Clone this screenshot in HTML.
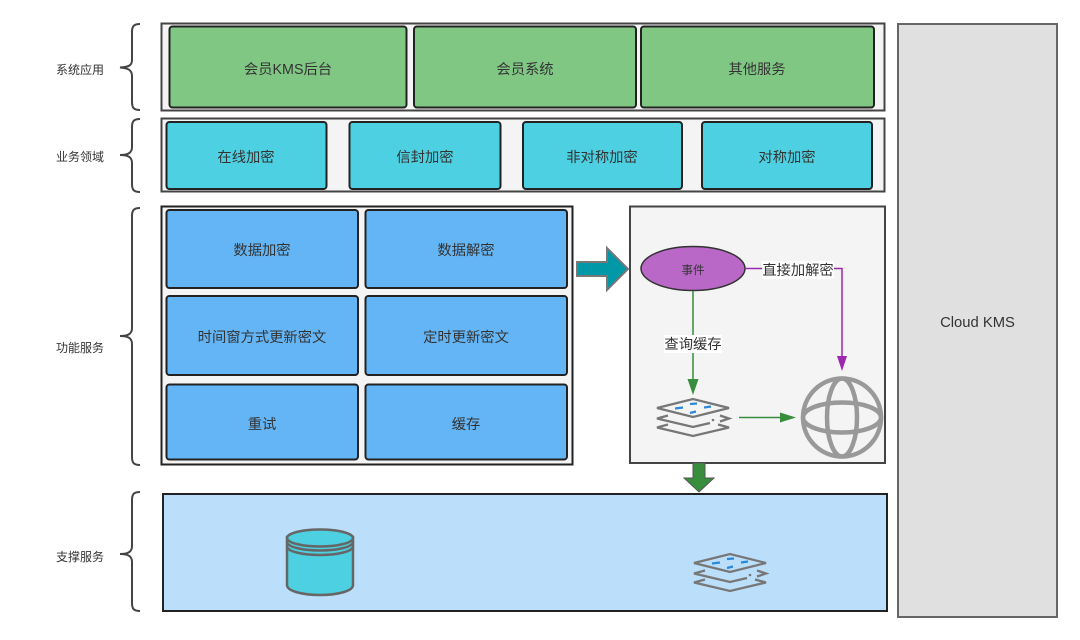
<!DOCTYPE html>
<html><head><meta charset="utf-8"><style>
html,body{margin:0;padding:0;background:#fff;width:1080px;height:640px;overflow:hidden}
svg{display:block;filter:blur(.35px)}
text{font-family:"Liberation Sans","Noto Sans CJK SC",sans-serif;fill:#333;text-anchor:middle;dominant-baseline:central}
.l{font-size:12px}.t{font-size:14.3px}
.f{fill:#f4f4f4;stroke:#444;stroke-width:2}
.g{fill:#81c784;stroke:#222;stroke-width:2}
.c{fill:#4dd0e1;stroke:#222;stroke-width:2}
.b{fill:#64b5f6;stroke:#222;stroke-width:2}
.br{fill:none;stroke:#444;stroke-width:2}
</style></head><body>
<svg width="1080" height="640" viewBox="0 0 1080 640" xmlns="http://www.w3.org/2000/svg">
<defs>
<g id="st">
<path d="M-36 0L0 -9L36 0L0 9Z M-25 7.500L-36 10.500L0 19L17 15 M27 7.500L36 10.500L27 13.500 M-25 16.500L-36 19.500L0 28L36 19.500L25 16.500" fill="none" stroke="#777" stroke-width="2.300"/>
<circle cx="20" cy="12" r="1.300" fill="#777"/>
<path d="M-18 0.500L-10 -0.500 M-3 -4L4 -4.500 M11 -0.500L18 -1.500 M-3 5L3 3.500" stroke="#2b88d8" stroke-width="2.200" fill="none"/>
</g>
</defs>
<path class="br" d="M140 24C134 24 132 26 132 32V60C132 66 128 67 120 67.500C128 68 132 70 132 76V102C132 108 134 110 140 110"/>
<path class="br" d="M140 119C134 119 132 121 132 127V147C132 153 128 155 120 155C128 155 132 157 132 163V184C132 190 134 192 140 192"/>
<path class="br" d="M140 208C134 208 132 210 132 216V328C132 334 128 336 120 336C128 336 132 338 132 344V457C132 463 134 465 140 465"/>
<path class="br" d="M140 492C134 492 132 494 132 500V546C132 552 128 554 120 554C128 554 132 556 132 562V603C132 609 134 611 140 611"/>
<text class="l" x="80" y="70">系统应用</text>
<text class="l" x="80" y="157">业务领域</text>
<text class="l" x="80" y="348">功能服务</text>
<text class="l" x="80" y="557">支撑服务</text>

<rect class="f" x="161.500" y="23.500" width="723" height="87"/>
<rect class="g" x="169.500" y="26.500" width="237" height="81" rx="3"/>
<rect class="g" x="414" y="26.500" width="222" height="81" rx="3"/>
<rect class="g" x="641" y="26.500" width="233" height="81" rx="3"/>
<text class="t" x="288" y="70">会员KMS后台</text>
<text class="t" x="525" y="70">会员系统</text>
<text class="t" x="757" y="70">其他服务</text>

<rect class="f" x="161.500" y="118.500" width="723" height="73"/>
<rect class="c" x="166.500" y="122" width="160" height="67" rx="3"/>
<rect class="c" x="349.500" y="122" width="151" height="67" rx="3"/>
<rect class="c" x="523" y="122" width="159" height="67" rx="3"/>
<rect class="c" x="702" y="122" width="170" height="67" rx="3"/>
<text class="t" x="246" y="158">在线加密</text>
<text class="t" x="425" y="158">信封加密</text>
<text class="t" x="602" y="158">非对称加密</text>
<text class="t" x="787" y="158">对称加密</text>

<rect x="161.500" y="206.500" width="411" height="258" fill="#f4f4f4" stroke="#222" stroke-width="2"/>
<rect class="b" x="166.500" y="210" width="191.500" height="78" rx="3"/>
<rect class="b" x="365.500" y="210" width="201.500" height="78" rx="3"/>
<rect class="b" x="166.500" y="296" width="191.500" height="79" rx="3"/>
<rect class="b" x="365.500" y="296" width="201.500" height="79" rx="3"/>
<rect class="b" x="166.500" y="384.500" width="191.500" height="75" rx="3"/>
<rect class="b" x="365.500" y="384.500" width="201.500" height="75" rx="3"/>
<text class="t" x="262" y="251">数据加密</text>
<text class="t" x="466" y="251">数据解密</text>
<text class="t" x="262" y="338">时间窗方式更新密文</text>
<text class="t" x="466" y="338">定时更新密文</text>
<text class="t" x="262" y="425">重试</text>
<text class="t" x="466" y="425">缓存</text>

<path d="M577 262H607V248L628 269L607 290V276H577Z" fill="#0097a7" stroke="#777" stroke-width="2"/>

<rect x="630" y="206.500" width="255" height="256.500" fill="#f4f4f4" stroke="#444" stroke-width="2"/>
<ellipse cx="693" cy="268.500" rx="52" ry="22" fill="#ba68c8" stroke="#333" stroke-width="1.500"/>
<text x="693" y="271" font-size="11.500">事件</text>

<path d="M693 291V380" stroke="#4f9f55" stroke-width="1.800" fill="none"/>
<path d="M687.500 379H698.500L693 395Z" fill="#388e3c"/>
<rect x="664" y="335" width="58" height="18" fill="#fff"/>
<text class="t" x="693" y="345">查询缓存</text>

<path d="M745 268.500H842V357" stroke="#9c27b0" stroke-width="1.500" fill="none"/>
<path d="M837 356H847L842 371Z" fill="#9c27b0"/>
<rect x="762" y="261" width="72" height="18" fill="#fff"/>
<text class="t" x="798" y="271">直接加解密</text>

<use href="#st" x="693" y="408"/>
<path d="M739 417.500H782" stroke="#388e3c" stroke-width="1.500" fill="none"/>
<path d="M780 412.500L796 417.500L780 422.500Z" fill="#388e3c"/>

<g fill="none" stroke="#999" stroke-width="4.500">
<circle cx="842" cy="417.500" r="39"/>
<ellipse cx="842" cy="417.500" rx="15" ry="39"/>
<ellipse cx="842" cy="417.500" rx="39" ry="15"/>
</g>

<rect x="163" y="494" width="724" height="117" fill="#bbdefb" stroke="#222" stroke-width="2"/>
<path d="M693 463H705V478H714L699 492L684 478H693Z" fill="#388e3c" stroke="#555" stroke-width="1"/>

<g stroke="#666" stroke-width="2.500" fill="#4dd0e1">
<path d="M287 537V585C287 591 302 595 320 595C338 595 353 591 353 585V537Z"/>
<ellipse cx="320" cy="538" rx="33" ry="8.500"/>
<path d="M287 542A33 8.500 0 0 0 353 542M287 546.500A33 8.500 0 0 0 353 546.500" fill="none"/>
</g>
<use href="#st" x="730" y="563"/>

<rect x="898" y="24" width="159" height="593" fill="#e0e0e0" stroke="#666" stroke-width="2"/>
<text x="977.500" y="323" font-size="14.800">Cloud KMS</text>
</svg>
</body></html>
